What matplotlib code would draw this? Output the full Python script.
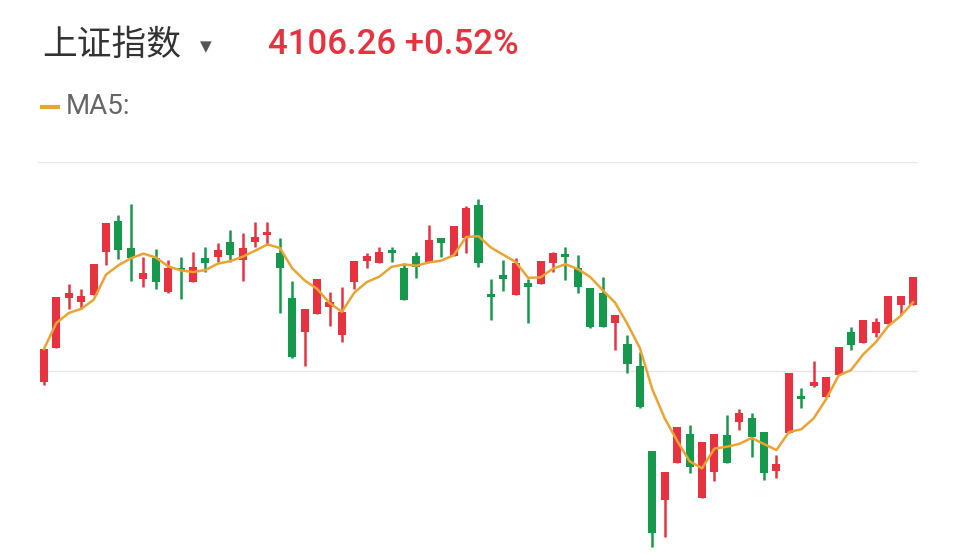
import numpy as np
import pandas as pd
import matplotlib.pyplot as plt

plt.rcParams['font.family'] = ['Noto Sans CJK SC', 'DejaVu Sans']

# 日K数据 (开, 高, 低, 收)
opens = [3948, 3999, 4074, 4068, 4079, 4144, 4190, 4149, 4103, 4134, 4084, 4120, 4098, 4134, 4136,
         4158, 4131, 4158, 4169, 4142, 4074, 4024, 4050, 4061, 4019, 4098, 4130, 4127, 4146, 4120,
         4137, 4128, 4164, 4137, 4164, 4214, 4080, 4109, 4079, 4097, 4095, 4127, 4140, 4120, 4089,
         4082, 4037, 4005, 3972, 3845, 3772, 3827, 3870, 3774, 3813, 3869, 3888, 3894, 3873, 3815,
         3872, 3928, 3942, 3926, 3959, 4023, 4007, 4022, 4035, 4064, 4064]
highs = [3998, 4076, 4096, 4088, 4126, 4187, 4199, 4216, 4136, 4148, 4132, 4136, 4144, 4151, 4157,
         4176, 4172, 4188, 4188, 4164, 4100, 4058, 4103, 4083, 4091, 4130, 4142, 4151, 4151, 4127,
         4143, 4184, 4164, 4182, 4212, 4223, 4103, 4131, 4134, 4103, 4130, 4143, 4151, 4139, 4089,
         4106, 4049, 4019, 3993, 3845, 3813, 3881, 3884, 3858, 3870, 3899, 3908, 3902, 3873, 3839,
         3962, 3939, 3980, 3956, 4001, 4031, 4042, 4044, 4077, 4077, 4106]
lows = [3944, 3999, 4058, 4058, 4079, 4124, 4133, 4100, 4091, 4088, 4082, 4073, 4098, 4113, 4128,
        4128, 4100, 4151, 4154, 4052, 3984, 3972, 4050, 4032, 4008, 4088, 4120, 4127, 4128, 4072,
        4104, 4128, 4136, 4137, 4142, 4121, 4041, 4085, 4079, 4037, 4095, 4113, 4101, 4082, 4029,
        4031, 3997, 3962, 3909, 3701, 3716, 3827, 3812, 3774, 3800, 3827, 3877, 3836, 3801, 3804,
        3872, 3909, 3941, 3926, 3959, 3997, 4007, 4016, 4035, 4049, 4064]
closes = [3998, 4076, 4082, 4077, 4126, 4187, 4146, 4134, 4112, 4098, 4120, 4116, 4121, 4127, 4146,
          4139, 4149, 4166, 4174, 4120, 3986, 4058, 4103, 4068, 4054, 4130, 4137, 4143, 4142, 4072,
          4121, 4161, 4157, 4182, 4209, 4127, 4076, 4103, 4127, 4091, 4130, 4142, 4136, 4091, 4031,
          4031, 4049, 3975, 3911, 3722, 3813, 3881, 3821, 3858, 3870, 3827, 3902, 3866, 3812, 3825,
          3962, 3923, 3948, 3956, 4001, 4004, 4042, 4038, 4077, 4077, 4106]

RED = '#e8323f'
GREEN = '#17994d'
ORANGE = '#eba431'

df = pd.DataFrame(dict(o=opens, h=highs, l=lows, c=closes))
ma5 = df.c.rolling(5, min_periods=1).mean()
x = np.arange(len(df))
up = df.c >= df.o
colors = np.where(up, RED, GREEN)

fig = plt.figure(figsize=(9.6, 5.54), dpi=100)
ax = fig.add_axes([38 / 960, 0, 880 / 960, 392 / 554])
ax.set_xlim(-0.48, 70.4)
ax.set_ylim(3690.5, 4278.5)
for g in [4278, 3965]:
    ax.axhline(g, color='#e6e6e6', lw=1, zorder=0)

ax.vlines(x, df.l, df.h, colors=colors, lw=1.8, zorder=2)
body = (df.c - df.o).abs().clip(lower=2)
ax.bar(x, body, bottom=np.minimum(df.o, df.c), width=0.65, color=colors, zorder=3)
ax.plot(x, ma5, color=ORANGE, lw=1.8, zorder=4)

ax.axis('off')

# 标题
fig.text(42 / 960, 1 - 45 / 554, '上证指数', fontsize=25, color='#333333', va='center')
fig.text(200 / 960, 1 - 47 / 554, '▼', fontsize=11, color='#555555', va='center',
         family=['DejaVu Sans'])
fig.text(268 / 960, 1 - 45 / 554, '4106.26 +0.52%', fontsize=25, color=RED, va='center',
         fontweight='medium', family=['Roboto', 'DejaVu Sans'])
fig.lines.append(plt.Line2D([42 / 960, 58 / 960], [1 - 107 / 554] * 2, transform=fig.transFigure,
                            color=ORANGE, lw=3))
fig.text(66 / 960, 1 - 107 / 554, 'MA5:', fontsize=20, color='#666666', va='center',
         family=['Roboto', 'DejaVu Sans'])

fig.savefig('out.png')
